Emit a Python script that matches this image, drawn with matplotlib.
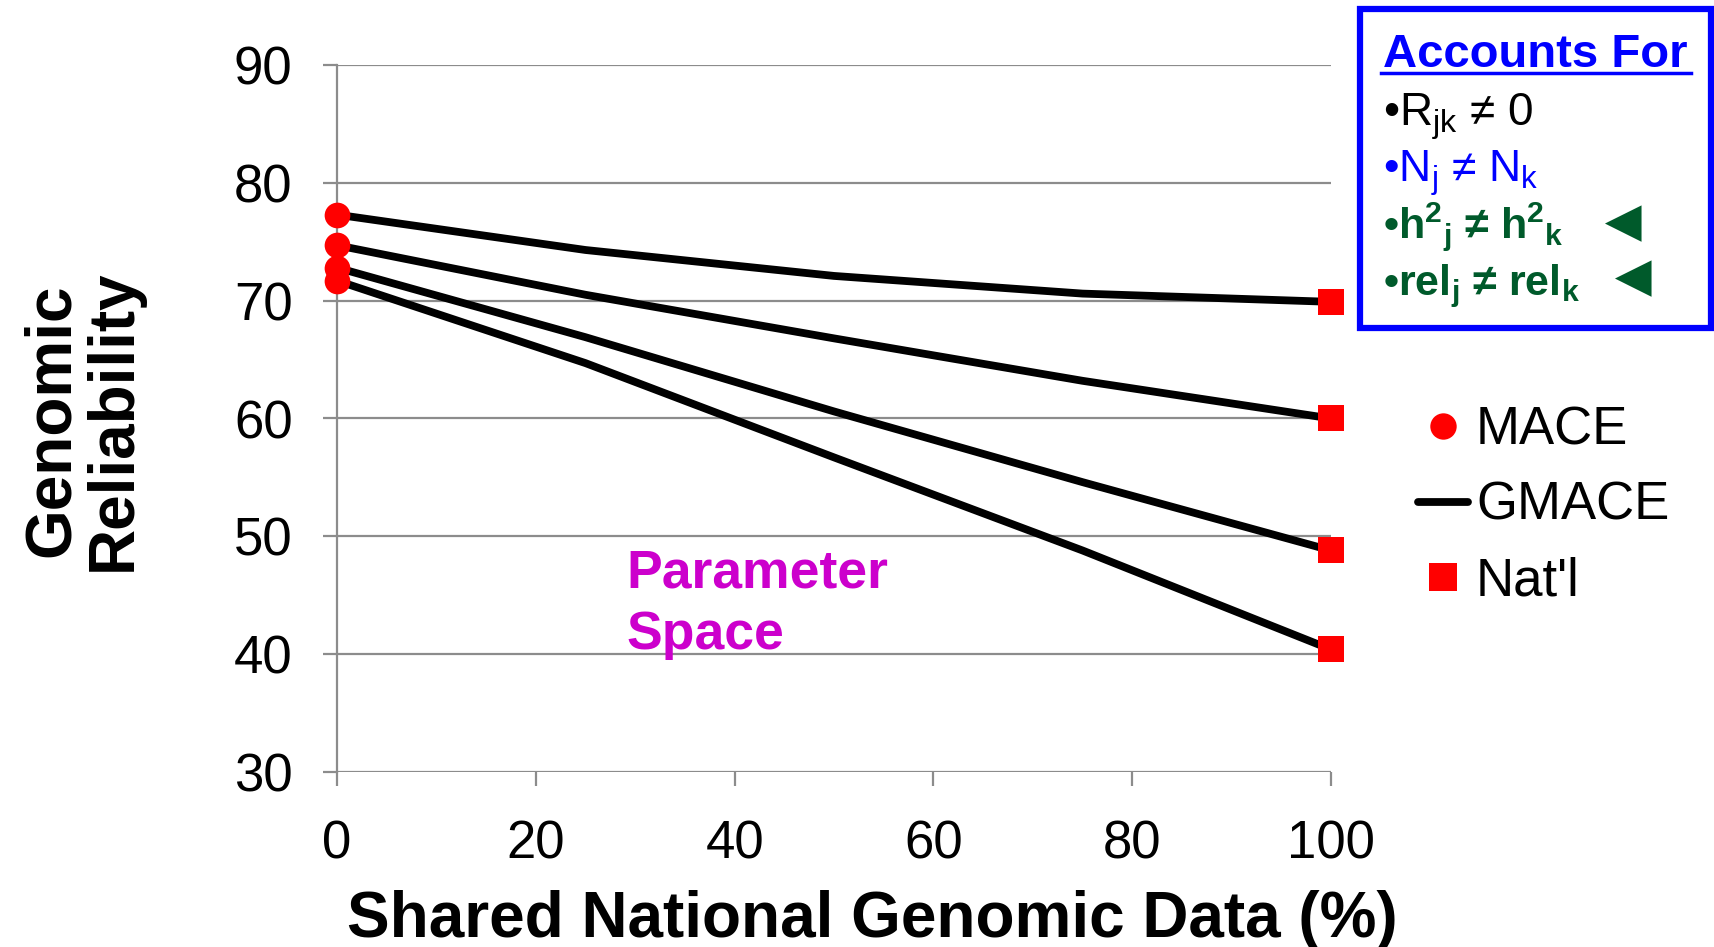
import matplotlib
matplotlib.use("Agg")
import matplotlib.pyplot as plt
from matplotlib.lines import Line2D
from matplotlib.patches import Rectangle

plt.rcParams["font.family"] = ["Liberation Sans", "DejaVu Sans"]
plt.rcParams["mathtext.fontset"] = "custom"
plt.rcParams["mathtext.default"] = "regular"

# --- data ---
share_pct = [0, 25, 50, 75, 100]
gmace_1 = [77.3, 74.3, 72.1, 70.6, 69.9]
gmace_2 = [74.7, 70.5, 66.8, 63.2, 60.0]
gmace_3 = [72.8, 66.9, 60.6, 54.6, 48.8]
gmace_4 = [71.7, 64.7, 56.7, 48.8, 40.4]
mace_x = [0, 0, 0, 0]
mace_y = [77.3, 74.7, 72.8, 71.7]
natl_x = [100, 100, 100, 100]
natl_y = [69.9, 60.0, 48.8, 40.4]
x_ticks = [0, 20, 40, 60, 80, 100]
y_ticks = [30, 40, 50, 60, 70, 80, 90]

W, H = 1714, 947


def fx(px):
    return px / W


def fy(py):
    return 1 - py / H


RED = "#FF0000"
GRID = "#8C8C8C"
GREEN = "#005A2B"
BLUE = "#0000FF"
MAGENTA = "#CC00CC"

fig = plt.figure(figsize=(W / 100, H / 100), dpi=100)
ax = fig.add_axes([fx(337), fy(772), fx(1331) - fx(337), fy(65) - fy(772)])

for series in (gmace_1, gmace_2, gmace_3, gmace_4):
    ax.plot(share_pct, series, color="black", lw=5.6, zorder=3,
            solid_capstyle="round", solid_joinstyle="round")
ax.plot(mace_x, mace_y, "o", color=RED, ms=18.5, mew=0, zorder=4, clip_on=False)
ax.plot(natl_x, natl_y, "s", color=RED, ms=19, mew=0, zorder=4, clip_on=False)

ax.set_xlim(0, 100)
ax.set_ylim(30, 90)
ax.set_xticks(x_ticks)
ax.set_yticks(y_ticks)
ax.yaxis.grid(True, color=GRID, lw=1.6)
ax.set_axisbelow(True)
for side in ("top", "right", "bottom"):
    ax.spines[side].set_visible(False)
ax.spines["left"].set_color(GRID)
ax.spines["left"].set_linewidth(1.6)
ax.tick_params(axis="both", direction="out", length=10, width=1.6,
               color=GRID, labelsize=38, pad=22)
ax.tick_params(axis="x", pad=24)

ax.text(29.1, 45.7, "Parameter", color=MAGENTA, fontsize=38.5,
        fontweight="bold", va="baseline")
ax.text(29.1, 40.4, "Space", color=MAGENTA, fontsize=38.5,
        fontweight="bold", va="baseline")

fig.text(fx(872), fy(937), "Shared National Genomic Data (%)", fontsize=46,
         fontweight="bold", ha="center", va="baseline")
fig.text(fx(83), fy(420), "Genomic\nReliability", fontsize=46,
         fontweight="bold", rotation=90, ha="center", va="center",
         linespacing=1.05, multialignment="center")

# legend
handles = [
    Line2D([], [], ls="none", marker="o", color=RED, ms=19, mew=0),
    Line2D([], [], color="black", lw=5.6, solid_capstyle="round"),
    Line2D([], [], ls="none", marker="s", color=RED, ms=20, mew=0),
]
fig.legend(handles, ["MACE", "GMACE", "Nat'l"], loc="center left",
           bbox_to_anchor=(fx(1418), fy(506)), frameon=False, fontsize=38,
           handlelength=0.95, handletextpad=0.15, labelspacing=0.49,
           borderpad=0, borderaxespad=0)

# "Accounts For" box
fig.add_artist(Rectangle((fx(1360), fy(328)), fx(1711) - fx(1360),
                         fy(9) - fy(328), transform=fig.transFigure,
                         facecolor="white", edgecolor=BLUE, lw=4.5))
fig.text(fx(1383), fy(67), "Accounts For", color=BLUE, fontsize=34,
         fontweight="bold", va="baseline")
fig.add_artist(Line2D([fx(1381), fx(1691)], [fy(73), fy(73)],
                      transform=fig.transFigure, color=BLUE, lw=2.5))
fig.text(fx(1383), fy(125), "•R$_{jk}$ ≠ 0", color="black", fontsize=33,
         va="baseline")
fig.text(fx(1383), fy(182), "•N$_{j}$ ≠ N$_{k}$", color=BLUE, fontsize=32,
         va="baseline")
fig.text(fx(1383), fy(238), "•h$^{2}$$_{j}$ ≠ h$^{2}$$_{k}$", color=GREEN,
         fontsize=31, fontweight="bold", va="baseline")
fig.text(fx(1383), fy(295), "•rel$_{j}$ ≠ rel$_{k}$", color=GREEN,
         fontsize=31, fontweight="bold", va="baseline")
fig.text(fx(1622), fy(226), "◄", color=GREEN, fontsize=44,
         ha="center", va="center")
fig.text(fx(1632), fy(281), "◄", color=GREEN, fontsize=44,
         ha="center", va="center")

fig.savefig("out.png", dpi=100)
